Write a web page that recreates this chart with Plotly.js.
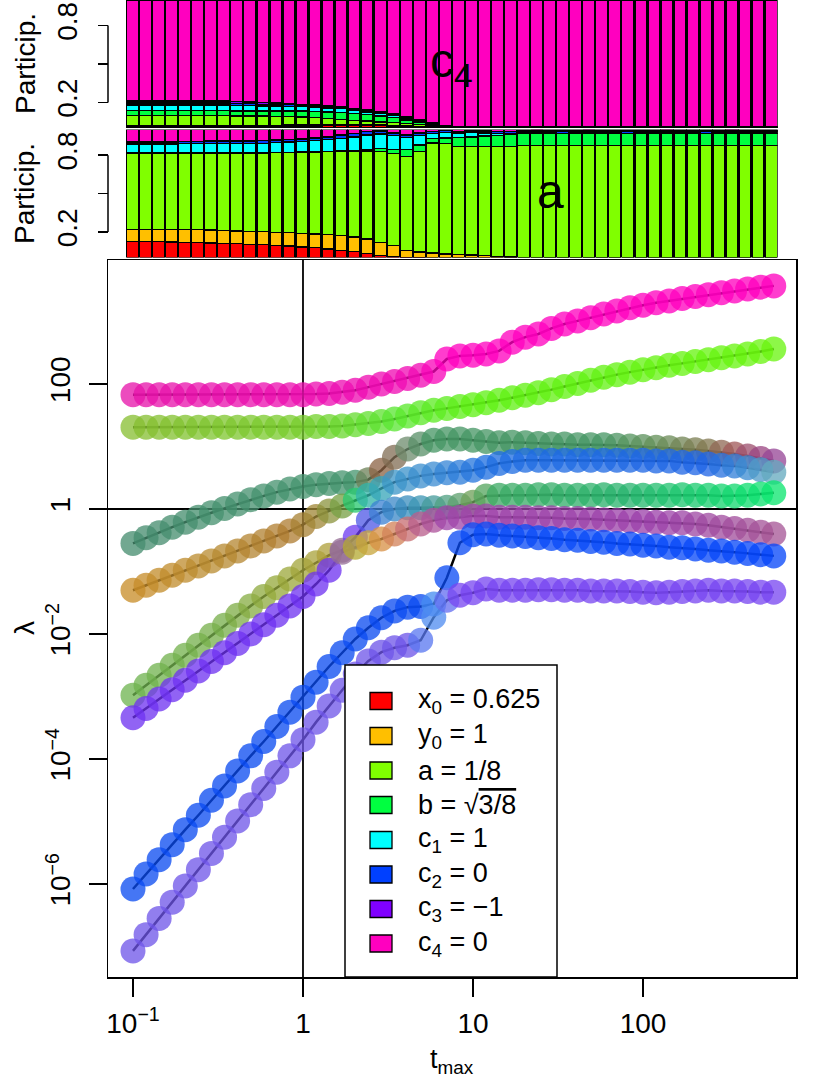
<!DOCTYPE html>
<html><head><meta charset="utf-8">
<script src="https://cdn.plot.ly/plotly-3.0.1.min.js"></script>
<style>html,body{margin:0;padding:0;background:#fff}</style>
</head><body>
<div id="chart" style="width:814px;height:1085px"></div>
<script>
// ---------------- data ----------------
const tmax = [0.1,0.1194,0.1425,0.1701,0.2031,0.2424,0.2894,0.3455,0.4125,0.4924,
  0.5878,0.7017,0.8377,1,1.194,1.425,1.701,2.031,2.424,2.894,
  3.455,4.125,4.924,5.878,7.017,8.377,10,11.94,14.25,17.01,
  20.31,24.24,28.94,34.55,41.25,49.24,58.78,70.17,83.77,100,
  119.4,142.5,170.1,203.1,242.4,289.4,345.5,412.5,492.4,587.8];
const barIndex = [0,1,2,3,4,5,6,7,8,9,10,11,12,13,14,15,16,17,18,19,20,21,22,23,24,
  25,26,27,28,29,30,31,32,33,34,35,36,37,38,39,40,41,42,43,44,45,46,47,48,49];

// log10(lambda) of the eigenvalues, sorted by rank (1 = largest)
const log10LambdaRank1 = [1.83,1.83,1.83,1.83,1.83,1.83,1.83,1.83,1.83,1.83,
  1.83,1.83,1.83,1.83,1.84,1.85,1.87,1.90,1.95,2.00,
  2.04,2.09,2.14,2.20,2.40,2.45,2.46,2.48,2.53,2.67,
  2.75,2.80,2.89,2.96,3.01,3.06,3.12,3.17,3.22,3.26,
  3.30,3.33,3.37,3.40,3.43,3.46,3.49,3.52,3.55,3.57];
const log10LambdaRank2 = [1.31,1.31,1.31,1.31,1.31,1.31,1.31,1.31,1.31,1.31,
  1.31,1.31,1.31,1.31,1.32,1.32,1.33,1.35,1.37,1.40,
  1.44,1.49,1.54,1.58,1.61,1.64,1.67,1.70,1.74,1.78,
  1.82,1.86,1.91,1.96,2.01,2.06,2.11,2.15,2.19,2.23,
  2.26,2.30,2.33,2.36,2.39,2.42,2.45,2.48,2.52,2.56];
const log10LambdaRank3 = [-0.55,-0.46,-0.38,-0.29,-0.21,-0.13,-0.06,0.01,0.08,0.15,
  0.21,0.27,0.32,0.36,0.39,0.41,0.42,0.43,0.47,0.62,
  0.83,0.96,1.04,1.10,1.12,1.12,1.10,1.08,1.06,1.07,
  1.06,1.05,1.04,1.04,1.03,1.03,1.03,1.02,1.01,1.00,
  0.99,0.98,0.96,0.95,0.93,0.91,0.88,0.85,0.81,0.77];
const log10LambdaRank4 = [-1.30,-1.22,-1.14,-1.06,-0.98,-0.91,-0.83,-0.75,-0.67,-0.59,
  -0.51,-0.43,-0.35,-0.25,-0.12,-0.03,0.05,0.14,0.22,0.33,
  0.43,0.48,0.53,0.56,0.58,0.59,0.62,0.67,0.73,0.76,
  0.78,0.78,0.78,0.78,0.78,0.78,0.78,0.78,0.78,0.78,
  0.77,0.77,0.75,0.74,0.72,0.70,0.69,0.66,0.63,0.59];
const log10LambdaRank5 = [-2.98,-2.82,-2.66,-2.50,-2.34,-2.18,-2.02,-1.86,-1.70,-1.55,
  -1.40,-1.26,-1.12,-0.98,-0.86,-0.74,-0.66,-0.45,-0.18,-0.05,
  0.00,0.02,0.02,0.02,0.03,0.06,0.11,0.21,0.22,0.22,
  0.22,0.23,0.23,0.22,0.22,0.22,0.23,0.22,0.22,0.22,
  0.22,0.22,0.23,0.22,0.22,0.21,0.21,0.22,0.24,0.26];
const log10LambdaRank6 = [-3.34,-3.19,-3.04,-2.89,-2.74,-2.59,-2.44,-2.30,-2.15,-2.00,
  -1.85,-1.70,-1.55,-1.40,-1.20,-0.98,-0.69,-0.61,-0.54,-0.48,
  -0.40,-0.32,-0.24,-0.18,-0.14,-0.13,-0.11,-0.11,-0.13,-0.13,
  -0.13,-0.14,-0.14,-0.15,-0.15,-0.16,-0.17,-0.18,-0.19,-0.20,
  -0.21,-0.22,-0.22,-0.24,-0.26,-0.29,-0.31,-0.34,-0.37,-0.40];
const log10LambdaRank7 = [-6.08,-5.84,-5.61,-5.37,-5.13,-4.90,-4.66,-4.43,-4.19,-3.95,
  -3.72,-3.48,-3.25,-3.01,-2.77,-2.52,-2.30,-2.08,-1.90,-1.74,
  -1.63,-1.57,-1.56,-1.52,-1.10,-0.54,-0.41,-0.40,-0.42,-0.43,
  -0.44,-0.46,-0.47,-0.49,-0.50,-0.52,-0.53,-0.55,-0.56,-0.58,
  -0.59,-0.61,-0.62,-0.64,-0.66,-0.67,-0.69,-0.71,-0.73,-0.75];
const log10LambdaRank8 = [-7.07,-6.81,-6.55,-6.29,-6.03,-5.77,-5.51,-5.25,-4.99,-4.73,
  -4.47,-4.21,-3.95,-3.69,-3.41,-3.15,-2.90,-2.64,-2.43,-2.29,
  -2.22,-2.18,-2.10,-1.73,-1.46,-1.38,-1.34,-1.28,-1.30,-1.30,
  -1.30,-1.29,-1.29,-1.30,-1.30,-1.31,-1.31,-1.31,-1.32,-1.33,
  -1.34,-1.33,-1.32,-1.31,-1.30,-1.31,-1.31,-1.32,-1.33,-1.33];

// participation of the largest mode (top panel, "c4")
const partA_x0 = [.010,.010,.010,.010,.010,.010,.010,.010,.010,.010,
  .011,.012,.013,.014,.015,.017,.019,.020,.020,.018,
  .015,.012,.008,.004,.002,0,0,0,0,0, 0,0,0,0,0,0,0,0,0,0, 0,0,0,0,0,0,0,0,0,0];
const partA_y0 = [.010,.010,.010,.010,.010,.010,.010,.010,.010,.010,
  .010,.010,.010,.009,.009,.008,.008,.007,.007,.006,
  .005,.004,.003,.002,.001,0,0,0,0,0, 0,0,0,0,0,0,0,0,0,0, 0,0,0,0,0,0,0,0,0,0];
const partA_a = [.075,.075,.075,.075,.075,.075,.075,.075,.074,.073,
  .072,.070,.067,.062,.056,.049,.041,.033,.027,.023,
  .021,.019,.015,.008,.003,.001,.001,.001,.001,.001,
  .001,.001,.001,.001,.001,.001,.001,.001,.001,.001,
  .001,.001,.001,.001,.001,.001,.001,.001,.001,.001];
const partA_b = [.040,.040,.040,.040,.040,.040,.040,.040,.040,.040,
  .040,.042,.044,.047,.050,.052,.054,.053,.050,.046,
  .040,.028,.017,.009,.004,.001,.001,.001,.001,.001,
  .001,.001,.001,.001,.001,.001,.001,.001,.001,.001,
  .001,.001,.001,.001,.001,.001,.001,.001,.001,.001];
const partA_c1 = [.045,.045,.045,.045,.045,.045,.045,.045,.043,.042,
  .040,.038,.036,.034,.032,.030,.028,.025,.022,.020,
  .017,.012,.009,.006,.003,.001,.001,.001,.001,.001,
  .001,.001,.001,.001,.001,.001,.001,.001,.001,.001,
  .001,.001,.001,.001,.001,.001,.001,.001,.001,.001];
const partA_c2 = [.015,.015,.015,.015,.015,.015,.015,.015,.014,.014,
  .013,.013,.012,.011,.011,.010,.010,.009,.009,.008,
  .008,.007,.006,.005,.005,.005,.005,.005,.005,.005,
  .005,.005,.005,.005,.005,.005,.005,.005,.005,.005,
  .005,.005,.005,.005,.005,.005,.005,.005,.005,.005];
const partA_c3 = [.015,.015,.015,.015,.015,.015,.015,.015,.014,.013,
  .012,.011,.010,.009,.008,.008,.007,.007,.006,.006,
  .005,.005,.004,.004,.003,.003,.003,.003,.003,.003,
  .003,.003,.003,.003,.003,.003,.003,.003,.003,.003,
  .003,.003,.003,.003,.003,.003,.003,.003,.003,.003];
const partA_c4 = [.790,.790,.790,.790,.790,.790,.790,.790,.795,.798,
  .802,.804,.808,.814,.819,.826,.833,.846,.859,.873,
  .889,.913,.938,.962,.979,.989,.989,.989,.989,.989,
  .989,.989,.989,.989,.989,.989,.989,.989,.989,.989,
  .989,.989,.989,.989,.989,.989,.989,.989,.989,.989];

// participation of the second mode (middle panel, "a")
const partB_x0 = [.125,.125,.124,.122,.120,.118,.115,.112,.108,.104,
  .100,.095,.090,.084,.077,.068,.058,.046,.030,.015,
  .006,.002,.001,0,0,0,0,0,0,0, 0,0,0,0,0,0,0,0,0,0, 0,0,0,0,0,0,0,0,0,0];
const partB_y0 = [.097,.097,.098,.098,.098,.099,.100,.100,.101,.102,
  .102,.103,.104,.105,.107,.110,.112,.114,.115,.105,
  .090,.055,.042,.035,.028,.022,.020,.015,.010,.005,
  0,0,0,0,0,0,0,0,0,0, 0,0,0,0,0,0,0,0,0,0];
const partB_a = [.596,.596,.596,.598,.600,.601,.603,.606,.609,.612,
  .616,.622,.628,.635,.642,.650,.660,.672,.689,.710,
  .716,.735,.787,.861,.862,.848,.850,.855,.860,.865,
  .875,.876,.875,.874,.875,.876,.875,.875,.874,.875,
  .875,.876,.875,.875,.874,.875,.876,.875,.875,.875];
const partB_b = [0,0,0,0,0,0,0,0,0,0,
  0,0,0,0,0,0,.002,.005,.010,.020,
  .035,.055,.050,.035,.045,.068,.072,.080,.086,.095,
  .095,.095,.095,.095,.095,.095,.095,.095,.095,.095,
  .095,.095,.095,.095,.095,.095,.095,.095,.095,.095];
const partB_c1 = [.070,.070,.070,.070,.071,.071,.072,.073,.074,.075,
  .076,.078,.080,.083,.087,.092,.098,.105,.115,.115,
  .105,.090,.075,.040,.045,.030,.033,.024,.015,.006,
  .003,.003,.003,.003,.003,.003,.003,.003,.003,.003,
  .003,.003,.003,.003,.003,.003,.003,.003,.003,.003];
const partB_c2 = [.015,.015,.015,.015,.016,.016,.017,.017,.018,.018,
  .019,.019,.020,.020,.021,.022,.024,.026,.025,.022,
  .020,.018,.016,.012,.011,.012,.012,.012,.013,.014,
  .015,.015,.015,.015,.015,.015,.015,.015,.015,.015,
  .015,.015,.015,.015,.015,.015,.015,.015,.015,.015];
const partB_c3 = [.003,.003,.003,.003,.003,.003,.003,.003,.003,.003,
  .003,.003,.003,.003,.003,.003,.003,.003,.003,.003,
  .003,.003,.003,.003,.002,.002,.002,.002,.002,.002,
  .002,.002,.002,.002,.002,.002,.002,.002,.002,.002,
  .002,.002,.002,.002,.002,.002,.002,.002,.002,.002];
const partB_c4 = [.094,.094,.094,.094,.092,.092,.090,.089,.087,.086,
  .084,.080,.075,.070,.063,.055,.043,.029,.013,.010,
  .025,.042,.026,.014,.007,.018,.011,.012,.014,.013,
  .010,.010,.010,.010,.010,.010,.010,.010,.010,.010,
  .010,.010,.010,.010,.010,.010,.010,.010,.010,.010];

const componentLabels = ['x<sub>0</sub> = 0.625','y<sub>0</sub> = 1','a = 1/8',
  'b = √<span style="text-decoration:overline">3/8</span>',
  'c<sub>1</sub> = 1','c<sub>2</sub> = 0','c<sub>3</sub> = −1','c<sub>4</sub> = 0'];
const componentColors = ['#FF0000','#FFBF00','#80FF00','#00FF40','#00FFFF','#0040FF','#8000FF','#FF00BF'];
const xTickVals = [0.1,1,10,100];
const xTickText = ['10<sup>−1</sup>','1','10','100'];
const yTickVals = [1e-6,1e-4,1e-2,1,100];
const yTickText = ['10<sup>−6</sup>','10<sup>−4</sup>','10<sup>−2</sup>','1','100'];

// ---------------- styles ----------------
const colorStops = [
  [[0,[230,20,170]],[22,[240,10,180]],[24,[255,0,190]],[49,[255,0,190]]],
  [[0,[135,190,50]],[13,[120,205,45]],[20,[90,230,50]],[26,[95,240,20]],[49,[105,245,15]]],
  [[0,[70,140,110]],[17,[70,150,110]],[18,[110,130,90]],[19,[140,100,70]],[20,[130,110,85]],[21,[110,140,110]],[23,[70,150,100]],[36,[70,150,100]],[40,[100,145,90]],[44,[130,120,80]],[46,[160,90,90]],[48,[155,70,130]],[49,[150,70,150]]],
  [[0,[200,140,40]],[6,[185,140,50]],[12,[175,125,50]],[14,[160,135,55]],[16,[120,160,70]],[17,[40,200,110]],[18,[50,180,170]],[20,[60,150,200]],[23,[60,140,210]],[27,[30,110,225]],[44,[30,100,230]],[47,[60,140,210]],[49,[100,170,190]]],
  [[0,[110,180,80]],[7,[120,175,75]],[11,[150,170,60]],[15,[175,160,60]],[16,[150,110,150]],[17,[110,60,240]],[18,[80,90,230]],[19,[60,130,210]],[22,[60,150,180]],[24,[80,160,130]],[26,[110,160,90]],[28,[60,170,100]],[38,[40,180,110]],[49,[10,230,110]]],
  [[0,[110,50,240]],[15,[110,50,240]],[16,[150,110,150]],[17,[180,170,50]],[18,[200,165,60]],[19,[215,145,70]],[20,[210,130,90]],[21,[200,110,115]],[22,[185,95,140]],[24,[160,70,170]],[40,[155,65,170]],[49,[165,85,150]]],
  [[0,[10,75,240]],[22,[10,75,240]],[23,[70,140,240]],[24,[10,75,245]],[49,[5,70,250]]],
  [[0,[110,85,232]],[21,[110,85,232]],[22,[90,120,240]],[23,[80,140,240]],[24,[100,110,240]],[25,[120,70,240]],[49,[120,70,240]]]
];
function colorsFromStops(stops, n, alpha) {
  const out = [];
  for (let i = 0; i < n; i++) {
    let k = 0;
    while (k < stops.length - 1 && stops[k + 1][0] <= i) k++;
    const s0 = stops[k], s1 = stops[Math.min(k + 1, stops.length - 1)];
    const t = s1[0] === s0[0] ? 0 : Math.max(0, Math.min(1, (i - s0[0]) / (s1[0] - s0[0])));
    const c = s0[1].map((v, j) => Math.round(v + (s1[1][j] - v) * t));
    out.push('rgba(' + c[0] + ',' + c[1] + ',' + c[2] + ',' + alpha + ')');
  }
  return out;
}

const W = 814, H = 1085;
const PX = x => x / W;
const PY = y => 1 - y / H;
const FONT = 'Liberation Sans, Arial, Helvetica, sans-serif';

const rankLogs = [log10LambdaRank1, log10LambdaRank2, log10LambdaRank3, log10LambdaRank4,
  log10LambdaRank5, log10LambdaRank6, log10LambdaRank7, log10LambdaRank8];
const partA = [partA_x0, partA_y0, partA_a, partA_b, partA_c1, partA_c2, partA_c3, partA_c4];
const partB = [partB_x0, partB_y0, partB_a, partB_b, partB_c1, partB_c2, partB_c3, partB_c4];

const traces = [];
partA.forEach((vals, k) => traces.push({
  type: 'bar', x: barIndex, y: vals, xaxis: 'x', yaxis: 'y', showlegend: false, hoverinfo: 'skip',
  marker: {color: componentColors[k], line: {color: '#000', width: 1.3}}
}));
partB.forEach((vals, k) => traces.push({
  type: 'bar', x: barIndex, y: vals, xaxis: 'x2', yaxis: 'y2', showlegend: false, hoverinfo: 'skip',
  marker: {color: componentColors[k], line: {color: '#000', width: 1.3}}
}));
rankLogs.forEach(lv => traces.push({
  type: 'scatter', mode: 'lines', x: tmax, y: lv.map(v => Math.pow(10, v)),
  xaxis: 'x3', yaxis: 'y3', showlegend: false, hoverinfo: 'skip',
  line: {color: '#000', width: 2.5}
}));
rankLogs.forEach((lv, r) => traces.push({
  type: 'scatter', mode: 'markers', x: tmax, y: lv.map(v => Math.pow(10, v)),
  xaxis: 'x3', yaxis: 'y3', showlegend: false, hoverinfo: 'skip',
  marker: {size: 25, color: colorsFromStops(colorStops[r], lv.length, 0.76), line: {width: 0}}
}));

const barX = {domain: [PX(126), PX(777.7)], range: [-0.5, 49.5], showticklabels: false,
  ticks: '', showline: false, showgrid: false, zeroline: false, fixedrange: true};
const barY = dom => ({domain: dom, range: [0, 1], anchor: 'free', position: PX(108),
  tickvals: [0.2, 0.5, 0.8], ticktext: ['0.2', '', '0.8'], ticks: 'outside', ticklen: 10,
  tickwidth: 1.5, tickcolor: '#000', tickangle: -90, ticklabelstandoff: 10,
  tickfont: {size: 28, color: '#000', family: FONT},
  showline: false, showgrid: false, zeroline: false, automargin: false});

const shapes = [
  {type: 'line', xref: 'paper', yref: 'y', x0: PX(108), x1: PX(108), y0: 0.2, y1: 0.8, line: {color: '#000', width: 1.5}},
  {type: 'line', xref: 'paper', yref: 'y2', x0: PX(108), x1: PX(108), y0: 0.2, y1: 0.8, line: {color: '#000', width: 1.5}},
  {type: 'line', xref: 'x3', yref: 'y3 domain', x0: 1, x1: 1, y0: 0, y1: 1, layer: 'below', line: {color: '#000', width: 1.8}},
  {type: 'line', xref: 'x3 domain', yref: 'y3', x0: 0, x1: 1, y0: 1, y1: 1, layer: 'below', line: {color: '#000', width: 1.8}},
  {type: 'rect', xref: 'paper', yref: 'paper', x0: PX(345), x1: PX(557), y0: PY(977), y1: PY(665),
    fillcolor: '#fff', line: {color: '#000', width: 1.5}, layer: 'above'}
];
const ann = (x, y, text, size, extra) => Object.assign({xref: 'paper', yref: 'paper', x: PX(x), y: PY(y),
  xanchor: 'center', yanchor: 'middle', text: text, showarrow: false,
  font: {size: size, color: '#000', family: FONT}}, extra || {});
const annotations = [
  ann(451, 64, 'c<sub>4</sub>', 48),
  ann(550, 191, 'a', 48),
  ann(25, 64, 'Particip.', 28, {textangle: -90}),
  ann(25, 194, 'Particip.', 28, {textangle: -90}),
  ann(24, 628, 'λ', 28, {textangle: -90}),
  ann(452, 1061, 't<sub>max</sub>', 27)
];
const rowY = [701, 736, 770.5, 805, 840, 874.5, 909, 943.5];
componentLabels.forEach((lab, k) => {
  shapes.push({type: 'rect', xref: 'paper', yref: 'paper', x0: PX(370), x1: PX(392),
    y0: PY(rowY[k] + 8.5), y1: PY(rowY[k] - 8.5), fillcolor: componentColors[k],
    line: {color: '#000', width: 1.3}, layer: 'above'});
  annotations.push(ann(416, rowY[k], lab, 27, {xanchor: 'left'}));
});

const layout = {
  width: W, height: H, margin: {l: 0, r: 0, t: 0, b: 0},
  paper_bgcolor: '#fff', plot_bgcolor: '#fff', barmode: 'stack', bargap: 0.08,
  showlegend: false, font: {family: FONT, color: '#000'},
  xaxis: Object.assign({anchor: 'y'}, barX),
  yaxis: barY([PY(128), 1]),
  xaxis2: Object.assign({anchor: 'y2'}, barX),
  yaxis2: barY([PY(257.6), PY(129.6)]),
  xaxis3: {domain: [PX(108), PX(796)], anchor: 'y3', type: 'log', range: [-1.147, 2.9],
    tickvals: xTickVals, ticktext: xTickText, ticks: 'outside', ticklen: 18, tickwidth: 1.5,
    tickcolor: '#000', ticklabelstandoff: 3, tickfont: {size: 28, color: '#000', family: FONT},
    showline: true, mirror: true, linecolor: '#000', linewidth: 1.5,
    showgrid: false, zeroline: false, automargin: false},
  yaxis3: {domain: [PY(977), PY(260)], anchor: 'x3', type: 'log', range: [-7.488, 3.984],
    tickvals: yTickVals, ticktext: yTickText, ticks: 'outside', ticklen: 18, tickwidth: 1.5,
    tickcolor: '#000', tickangle: -90, ticklabelstandoff: 7,
    tickfont: {size: 28, color: '#000', family: FONT},
    showline: true, mirror: true, linecolor: '#000', linewidth: 1.5,
    showgrid: false, zeroline: false, automargin: false},
  shapes: shapes,
  annotations: annotations
};

Plotly.newPlot('chart', traces, layout, {staticPlot: true, displayModeBar: false});
</script>
</body></html>
